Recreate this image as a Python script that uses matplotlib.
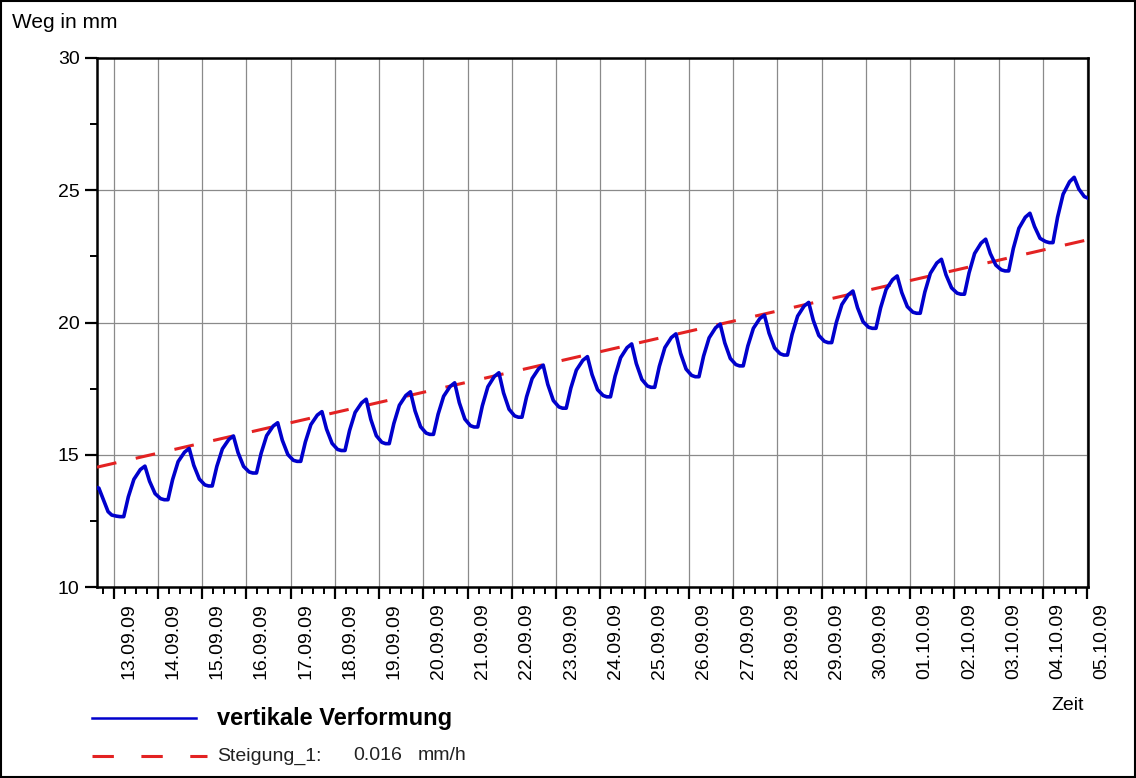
import matplotlib.pyplot as plt
import matplotlib.dates as mdates
import pandas as pd
from matplotlib.lines import Line2D
from matplotlib.patches import Rectangle
from matplotlib.ticker import MultipleLocator
from matplotlib.transforms import ScaledTranslation

plt.rcParams['font.family'] = ['Liberation Sans', 'DejaVu Sans']

# erster, angeschnittener Tag (12.09.09)
start_zeit = ['2009-09-12 15:00', '2009-09-12 16:00', '2009-09-12 18:30',
              '2009-09-12 21:00', '2009-09-12 23:00']
start_weg = [13.76, 13.74, 13.30, 12.85, 12.72]

# ab 13.09.09: Werte je Tag zu festen Uhrzeiten (Stunden)
tage = pd.date_range('2009-09-13', '2009-10-04', freq='D')
uhrzeit_h = [1.5, 3.5, 5.5, 8.0, 11.0, 14.5, 17.0, 19.5, 22.5]
weg_tag = [
    [12.68, 12.66, 12.66, 13.41, 14.07, 14.44, 14.57, 14.00, 13.53],  # 13.09
    [13.34, 13.30, 13.30, 14.06, 14.74, 15.10, 15.24, 14.60, 14.08],  # 14.09
    [13.86, 13.82, 13.82, 14.56, 15.22, 15.58, 15.71, 15.08, 14.56],  # 15.09
    [14.35, 14.31, 14.31, 15.05, 15.72, 16.08, 16.21, 15.55, 15.01],  # 16.09
    [14.79, 14.75, 14.75, 15.48, 16.14, 16.50, 16.63, 15.97, 15.43],  # 17.09
    [15.20, 15.16, 15.16, 15.92, 16.60, 16.96, 17.10, 16.34, 15.72],  # 18.09
    [15.47, 15.42, 15.42, 16.18, 16.87, 17.24, 17.38, 16.66, 16.06],  # 19.09
    [15.82, 15.77, 15.77, 16.53, 17.21, 17.58, 17.72, 16.97, 16.35],  # 20.09
    [16.10, 16.05, 16.05, 16.85, 17.57, 17.96, 18.10, 17.34, 16.72],  # 21.09
    [16.47, 16.42, 16.42, 17.19, 17.88, 18.25, 18.39, 17.66, 17.05],  # 22.09
    [16.81, 16.76, 16.76, 17.52, 18.20, 18.57, 18.71, 18.03, 17.46],  # 23.09
    [17.24, 17.19, 17.19, 17.97, 18.67, 19.05, 19.19, 18.45, 17.85],  # 24.09
    [17.60, 17.55, 17.55, 18.34, 19.05, 19.43, 19.57, 18.84, 18.24],  # 25.09
    [18.00, 17.95, 17.95, 18.73, 19.42, 19.80, 19.94, 19.23, 18.64],  # 26.09
    [18.41, 18.36, 18.36, 19.11, 19.78, 20.15, 20.28, 19.60, 19.04],  # 27.09
    [18.82, 18.77, 18.77, 19.55, 20.24, 20.62, 20.76, 20.08, 19.51],  # 28.09
    [19.29, 19.24, 19.24, 20.00, 20.68, 21.05, 21.19, 20.56, 20.03],  # 29.09
    [19.82, 19.78, 19.78, 20.55, 21.25, 21.62, 21.76, 21.13, 20.60],  # 30.09
    [20.39, 20.35, 20.35, 21.15, 21.86, 22.25, 22.39, 21.80, 21.31],  # 01.10
    [21.11, 21.07, 21.07, 21.88, 22.61, 23.00, 23.15, 22.61, 22.17],  # 02.10
    [21.99, 21.95, 21.95, 22.80, 23.56, 23.98, 24.13, 23.63, 23.18],  # 03.10
    [23.06, 23.02, 23.02, 23.98, 24.85, 25.32, 25.49, 25.05, 24.76],  # 04.10
]
ende_zeit = ['2009-10-05 00:30']
ende_weg = [24.70]

# lineare Steigung 0.016 mm/h
trend_zeit = ['2009-09-12 15:00', '2009-10-05 00:30']
trend_weg = [14.53, 23.13]

zeit = list(pd.to_datetime(start_zeit))
weg = list(start_weg)
for tag, werte in zip(tage, weg_tag):
    for h, w in zip(uhrzeit_h, werte):
        zeit.append(tag + pd.Timedelta(hours=h))
        weg.append(w)
zeit += list(pd.to_datetime(ende_zeit))
weg += ende_weg

fig = plt.figure(figsize=(11.36, 7.78), dpi=100)
ax = fig.add_axes([97 / 1136, 1 - 587 / 778, 991 / 1136, 529 / 778])

ax.plot(pd.to_datetime(trend_zeit), trend_weg, color='#E32222', lw=2.2,
        linestyle=(0, (6.5, 6.5)), zorder=3)
ax.plot(zeit, weg, color='#0000CC', lw=2.6, zorder=4,
        solid_joinstyle='round')

ax.set_xlim(pd.Timestamp('2009-09-12 15:00'), pd.Timestamp('2009-10-05 00:30'))
ax.set_ylim(10, 30)

ax.xaxis.set_major_locator(mdates.DayLocator())
ax.xaxis.set_major_formatter(mdates.DateFormatter('%d.%m.%y'))
ax.xaxis.set_minor_locator(mdates.HourLocator(byhour=[6, 12, 18]))
ax.yaxis.set_major_locator(MultipleLocator(5))
ax.yaxis.set_minor_locator(MultipleLocator(2.5))

ax.tick_params(axis='x', which='major', length=8.5, width=1.6, pad=3,
               labelsize=14, labelrotation=90)
ax.tick_params(axis='x', which='minor', length=5, width=1.4)
ax.tick_params(axis='y', which='major', length=8.5, width=1.6, pad=4, labelsize=14)
ax.tick_params(axis='y', which='minor', length=5, width=1.4)

ax.grid(True, which='major', color='#8a8a8a', lw=0.9)
for s in ax.spines.values():
    s.set_linewidth(1.8)
    s.set_color('black')

fig.text(12 / 1136, 1 - 22 / 778, 'Weg in mm', fontsize=15, va='center')
fig.text(1084 / 1136, 1 - 706 / 778, 'Zeit', fontsize=14, va='center', ha='right')

fig.add_artist(Line2D([92 / 1136, 196 / 1136], [1 - 718 / 778] * 2,
                      color='#0000CC', lw=1.8))
fig.text(217 / 1136, 1 - 718 / 778, 'vertikale Verformung', fontsize=17,
         fontweight='bold', va='center')
fig.add_artist(Line2D([92 / 1136, 207 / 1136], [1 - 756 / 778] * 2,
                      color='#E32222', lw=2.2, linestyle=(0, (7, 9))))
fig.text(217 / 1136, 1 - 756 / 778, 'Steigung_1:', fontsize=14, va='center',
         color='#222222')
fig.text(353 / 1136, 1 - 756 / 778, '0.016', fontsize=14, va='center',
         color='#222222')
fig.text(418 / 1136, 1 - 756 / 778, 'mm/h', fontsize=14, va='center',
         color='#222222')

fig.add_artist(Rectangle((0.001, 0.001), 0.998, 0.998, transform=fig.transFigure,
                         fill=False, edgecolor='black', lw=1.5))

fig.canvas.draw()
verschiebung = ScaledTranslation(15 / 100, 0, fig.dpi_scale_trans)
for lab in ax.get_xticklabels():
    lab.set_transform(lab.get_transform() + verschiebung)

fig.savefig('out.png', dpi=100)
plt.close()
